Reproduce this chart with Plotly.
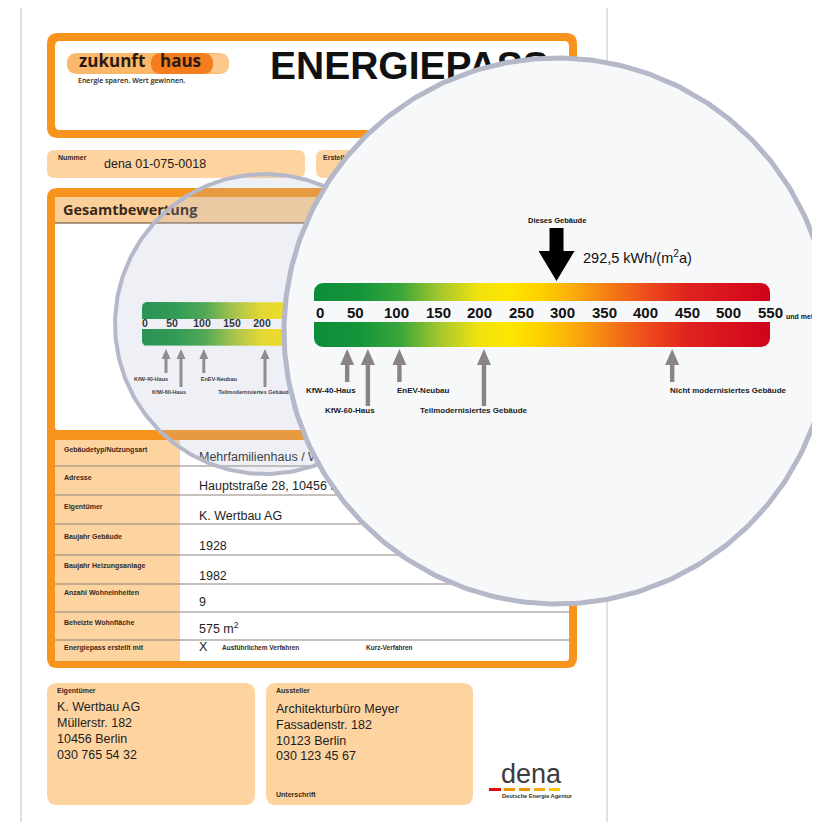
import math
import plotly.graph_objects as go

# ---------------- data ----------------
scale_ticks = [0, 50, 100, 150, 200, 250, 300, 350, 400, 450, 500, 550]
ref_labels = ["KfW-40-Haus", "KfW-60-Haus", "EnEV-Neubau",
              "Teilmodernisiertes Gebäude", "Nicht modernisiertes Gebäude"]
ref_values = [40, 65, 103, 205, 432]
building_value = 292.5
building_text = "292,5 kWh/(m<sup>2</sup>a)"
building_caption = "Dieses Gebäude"
more_text = "und mehr"
pass_number = "dena 01-075-0018"
table_labels = ["Gebäudetyp/Nutzungsart", "Adresse", "Eigentümer", "Baujahr Gebäude",
                "Baujahr Heizungsanlage", "Anzahl Wohneinheiten", "Beheizte Wohnfläche",
                "Energiepass erstellt mit"]
table_values = ["Mehrfamilienhaus / Wohngebäude", "Hauptstraße 28, 10456 Berlin",
                "K. Wertbau AG", "1928", "1982", "9", "575 m<sup>2</sup>", "X"]
method_options = ["Ausführlichem Verfahren", "Kurz-Verfahren"]
owner_lines = ["K. Wertbau AG", "Müllerstr. 182", "10456 Berlin", "030 765 54 32"]
issuer_lines = ["Architekturbüro Meyer", "Fassadenstr. 182", "10123 Berlin", "030 123 45 67"]

# ---------------- style ----------------
VW, VH = 820, 830          # browser window
OFF = 8                    # default body margin of the page
W, H = VW - OFF, VH - 2 * OFF
ORANGE = "#f7941d"
LIGHT = "#fdd3a0"
BAND = "#fbcf99"
DARK = "#3a2a1c"
TXT = "#1e1e1e"
ARROW_GRAY = "#8a8484"
RING = "#b5b8c8"
SANS = "Liberation Sans"
HUM = "Open Sans"
SMALL_PX = (142, 472)      # window-pixel span of the small scale
BIG_PX = (314, 770)        # window-pixel span of the magnified scale
SMALL_VISIBLE_MAX = 250    # the small scale beyond this lies under the lens
SCALE_MAX = scale_ticks[-1]
ppu_small = (SMALL_PX[1] - SMALL_PX[0]) / SCALE_MAX
ppu_big = (BIG_PX[1] - BIG_PX[0]) / SCALE_MAX
GRAD = [[0.00, "#0b8c39"], [0.10, "#14953a"], [0.19, "#3ba63a"], [0.28, "#a9c92d"],
        [0.36, "#f1e10f"], [0.43, "#fee600"], [0.50, "#fdcf00"], [0.57, "#fbab0b"],
        [0.65, "#f67a16"], [0.73, "#ee4b1c"], [0.82, "#e0221f"], [1.00, "#cf031b"]]

row_tops = [440, 466, 495, 524, 555, 584, 612, 640]
label_y = [450, 478, 507, 537, 566, 593, 623, 648]
value_y = [458, 487, 517, 547, 577, 603, 630, 648]

fig = go.Figure()
shapes = []
annotations = []


def rrect(x0, y0, x1, y1, r):
    return (f"M {x0 + r},{y0} L {x1 - r},{y0} Q {x1},{y0} {x1},{y0 + r} "
            f"L {x1},{y1 - r} Q {x1},{y1} {x1 - r},{y1} L {x0 + r},{y1} "
            f"Q {x0},{y1} {x0},{y1 - r} L {x0},{y0 + r} Q {x0},{y0} {x0 + r},{y0} Z")


def box(x0, y0, x1, y1, r, fill, line=None, lw=0):
    shapes.append(dict(type="path", path=rrect(x0, y0, x1, y1, r), xref="x", yref="y",
                       fillcolor=fill, line=dict(width=lw, color=line or fill), layer="below"))


def rect(x0, y0, x1, y1, fill):
    shapes.append(dict(type="rect", x0=x0, x1=x1, y0=y0, y1=y1, xref="x", yref="y",
                       fillcolor=fill, line=dict(width=0), layer="below"))


def hline(y, x0, x1, color, w=1):
    shapes.append(dict(type="line", x0=x0, x1=x1, y0=y, y1=y, xref="x", yref="y",
                       line=dict(color=color, width=w), layer="below"))


def add_text(xs, ys, texts, size, color, family=SANS, weight="normal", pos="middle right", axis="x"):
    fig.add_trace(go.Scatter(x=xs, y=ys, text=texts, mode="text", textposition=pos,
                             textfont=dict(size=size, color=color, family=family, weight=weight),
                             xaxis=axis, yaxis="y", hoverinfo="skip", showlegend=False,
                             cliponaxis=False))


def band_pts(y0, y1, r, ppu, top_round, bottom_round):
    rx = r / ppu
    xs, ys = [], []

    def arc(cx, cy, a0, a1):
        for k in range(9):
            a = a0 + (a1 - a0) * k / 8
            xs.append(cx + rx * math.cos(a))
            ys.append(cy + r * math.sin(a))
    if top_round:
        arc(rx, y0 + r, math.pi, 1.5 * math.pi)
        arc(SCALE_MAX - rx, y0 + r, 1.5 * math.pi, 2 * math.pi)
    else:
        xs += [0, SCALE_MAX]
        ys += [y0, y0]
    if bottom_round:
        arc(SCALE_MAX - rx, y1 - r, 0, 0.5 * math.pi)
        arc(rx, y1 - r, 0.5 * math.pi, math.pi)
    else:
        xs += [SCALE_MAX, 0]
        ys += [y1, y1]
    xs.append(xs[0])
    ys.append(ys[0])
    return xs, ys


def circle_pts(cx, cy, r, n=360):
    xs = [cx + r * math.cos(2 * math.pi * k / n) for k in range(n + 1)]
    ys = [cy + r * math.sin(2 * math.pi * k / n) for k in range(n + 1)]
    return xs, ys


def arrow_path(tip, head_len, head_hw, shaft_hw, end):
    hb = tip + head_len
    return (f"M {-head_hw},{hb} L 0,{tip} L {head_hw},{hb} L {shaft_hw},{hb} "
            f"L {shaft_hw},{end} L {-shaft_hw},{end} L {-shaft_hw},{hb} Z")


# ---------------- document layer (below shapes, subplot xy) ----------------
shapes.append(dict(type="rect", x0=21, x1=607, y0=6, y1=845, xref="x", yref="y",
                   fillcolor="white", line=dict(color="#c4c4c4", width=1), layer="below"))
# header
box(47, 33, 577, 138, 11, ORANGE)
box(55, 41, 569, 130, 5, "white")
box(67, 53, 229, 74, 10.5, "#fbb86a")
box(205, 54, 229, 73, 9.5, "#fcc98c")
box(151, 53, 213, 74, 10.5, "#f47d20")
# number / date boxes
box(47, 150, 305, 178, 8, LIGHT)
box(316, 150, 577, 178, 8, LIGHT)
# main frame
box(47, 188, 577, 668, 10, ORANGE)
box(55, 197, 569, 430, 3, "white")
rect(55, 197, 569, 223, BAND)
hline(223, 55, 569, "#5a3e28", 1)
box(55, 440, 569, 661, 3, "white")
rect(55, 440, 180, 661, LIGHT)
for yt in row_tops[1:]:
    hline(yt, 55, 569, "#8d837b", 1)
# bottom boxes
box(47, 683, 255, 805, 10, LIGHT)
box(266, 683, 473, 805, 10, LIGHT)
# dena dashes
for (x0, x1, c) in [(489, 501, "#e30613"), (504, 515, "#f39200"), (519, 530, "#f39200"),
                    (534, 545, "#f6a81c"), (549, 560, "#fcc900")]:
    rect(x0, 788, x1, 791, c)

# document texts (traces in xy so the lens can cover them)
add_text([79], [63], ["zukunft"], 17, "#2b1a10", HUM, "bold")
add_text([160], [63], ["haus"], 17, "#2b1a10", HUM, "bold")
add_text([78], [81], ["Energie sparen. Wert gewinnen."], 7, "#2b1a10", HUM, 600)
add_text([270], [69], ["ENERGIEPASS"], 39, "#111111", SANS, "bold")
add_text([58, 323], [158, 158], ["Nummer", "Erstellt am"], 7, DARK, SANS, "bold")
add_text([104], [165], [pass_number], 12.5, TXT)
add_text([63], [211], ["Gesamtbewertung"], 14.5, DARK, HUM, "bold")
add_text([64] * len(table_labels), label_y, table_labels, 7, DARK, SANS, "bold")
add_text([199] * len(table_values), value_y, table_values, 12.5, TXT)
add_text([222, 366], [648, 648], method_options, 6.5, DARK, SANS, "bold")
add_text([57, 276, 276], [691, 691, 795], ["Eigentümer", "Aussteller", "Unterschrift"], 7, DARK, SANS, "bold")
add_text([57] * 4, [708, 724, 740, 756], owner_lines, 12.5, TXT)
add_text([276] * 4, [710, 726, 742, 757], issuer_lines, 12.5, TXT)
add_text([501], [776], ["dena"], 27, "#3c3c3c", SANS)
add_text([502], [797], ["Deutsche Energie Agentur"], 5.6, "#333333", SANS, "bold")

# ---------------- small scale (subplot x2y) ----------------
for (y0, y1, tr, br) in [(302, 319, True, False), (329, 346, False, True)]:
    xs, ys = band_pts(y0, y1, 5, ppu_small, tr, br)
    fig.add_trace(go.Scatter(x=xs, y=ys, mode="lines", fill="toself", line=dict(width=0),
                             fillgradient=dict(type="horizontal", colorscale=GRAD),
                             xaxis="x2", yaxis="y", hoverinfo="skip", showlegend=False))
small_ticks = [t for t in scale_ticks if t < SMALL_VISIBLE_MAX]
add_text(small_ticks, [324] * len(small_ticks), [str(t) for t in small_ticks], 10.5, "#111111",
         SANS, "bold", ["middle right"] + ["middle center"] * (len(small_ticks) - 1), "x2")
small_long = [False, True, False, True, False]
small_lbl_dx = [-15, -12, -3, -10, -3]
small_lbl_pos = ["middle center", "middle center", "middle right", "middle center", "middle right"]
sx, sy, st, sp = [], [], [], []
for lbl, v, lg, dx, pos in zip(ref_labels, ref_values, small_long, small_lbl_dx, small_lbl_pos):
    if v >= SMALL_VISIBLE_MAX:
        continue
    shapes.append(dict(type="path", xref="x2", yref="y", xsizemode="pixel", xanchor=v,
                       path=arrow_path(349, 10, 4.5, 1.5, 387 if lg else 373),
                       fillcolor=ARROW_GRAY, line=dict(width=0), layer="below"))
    sx.append(v + dx / ppu_small)
    sy.append(393 if lg else 380)
    st.append(lbl)
    sp.append(pos)
add_text(sx, sy, st, 5.5, "#222222", SANS, "bold", sp, "x2")

# ---------------- lenses (subplot x3y) ----------------
xs, ys = circle_pts(265, 324, 150)
fig.add_trace(go.Scatter(x=xs, y=ys, mode="lines", fill="toself", fillcolor="rgba(170,178,205,0.2)",
                         line=dict(color=RING, width=4), xaxis="x3", yaxis="y",
                         hoverinfo="skip", showlegend=False))
xs, ys = circle_pts(557, 331, 273)
fig.add_trace(go.Scatter(x=xs, y=ys, mode="lines", fill="toself", fillcolor="#f7f8fa",
                         line=dict(color=RING, width=5), xaxis="x3", yaxis="y",
                         hoverinfo="skip", showlegend=False))

# ---------------- magnified scale (subplot x4y) ----------------
for (y0, y1, tr, br) in [(283, 301, True, False), (322, 347, False, True)]:
    xs, ys = band_pts(y0, y1, 9, ppu_big, tr, br)
    fig.add_trace(go.Scatter(x=xs, y=ys, mode="lines", fill="toself", line=dict(width=0),
                             fillgradient=dict(type="horizontal", colorscale=GRAD),
                             xaxis="x4", yaxis="y", hoverinfo="skip", showlegend=False))

big_long = [False, True, False, True, False]
big_lbl_dx = [-16, -18, -4, -10, -4]
big_lbl_anchor = ["center", "center", "left", "center", "left"]
for v, lg in zip(ref_values, big_long):
    shapes.append(dict(type="path", xref="x4", yref="y", xsizemode="pixel", xanchor=v,
                       path=arrow_path(349, 16, 7, 2.2, 406 if lg else 382),
                       fillcolor=ARROW_GRAY, line=dict(width=0), layer="above"))
for lbl, v, lg, dx, anc in zip(ref_labels, ref_values, big_long, big_lbl_dx, big_lbl_anchor):
    annotations.append(dict(x=v, y=410 if lg else 390, xref="x4", yref="y", text=lbl,
                            showarrow=False, xanchor=anc, yanchor="middle", xshift=dx,
                            font=dict(family=SANS, size=8, color="#1a1a1a", weight="bold")))
for i, t in enumerate(scale_ticks):
    annotations.append(dict(x=t, y=312, xref="x4", yref="y", text=str(t), showarrow=False,
                            xanchor="left" if i == 0 else "center", yanchor="middle",
                            font=dict(family=SANS, size=15, color="#111111", weight="bold")))
annotations.append(dict(x=SCALE_MAX, y=316, xref="x4", yref="y", text=more_text, showarrow=False,
                        xanchor="left", yanchor="middle", xshift=14,
                        font=dict(family=SANS, size=7, color="#111111", weight="bold")))
# this building
shapes.append(dict(type="path", xref="x4", yref="y", xsizemode="pixel", xanchor=building_value,
                   path="M -7,228 L 7,228 L 7,251 L 18,251 L 0,281 L -18,251 L -7,251 Z",
                   fillcolor="#000000", line=dict(width=0), layer="above"))
annotations.append(dict(x=building_value, y=220, xref="x4", yref="y", text=building_caption,
                        showarrow=False, xanchor="center", yanchor="middle",
                        font=dict(family=SANS, size=7.5, color="#111111", weight="bold")))
annotations.append(dict(x=building_value, y=257, xref="x4", yref="y", text=building_text,
                        showarrow=False, xanchor="left", yanchor="middle", xshift=24,
                        font=dict(family=SANS, size=14.5, color="#111111")))


def dom(px):
    return (px[0] - OFF) / W, (px[1] - OFF) / W


fig.update_layout(
    width=W, height=H, margin=dict(l=0, r=0, t=0, b=0, pad=0),
    paper_bgcolor="white", plot_bgcolor="rgba(0,0,0,0)", showlegend=False,
    xaxis=dict(range=[OFF, VW], domain=[0, 1], visible=False, anchor="y"),
    xaxis2=dict(range=[0, SCALE_MAX], domain=list(dom(SMALL_PX)), visible=False, anchor="y"),
    xaxis3=dict(range=[OFF, VW], domain=[0, 1], visible=False, anchor="y"),
    xaxis4=dict(range=[0, SCALE_MAX], domain=list(dom(BIG_PX)), visible=False, anchor="y"),
    yaxis=dict(range=[OFF + H, OFF], domain=[0, 1], visible=False, anchor="x"),
    shapes=shapes, annotations=annotations,
)
fig.write_html("out.html")
